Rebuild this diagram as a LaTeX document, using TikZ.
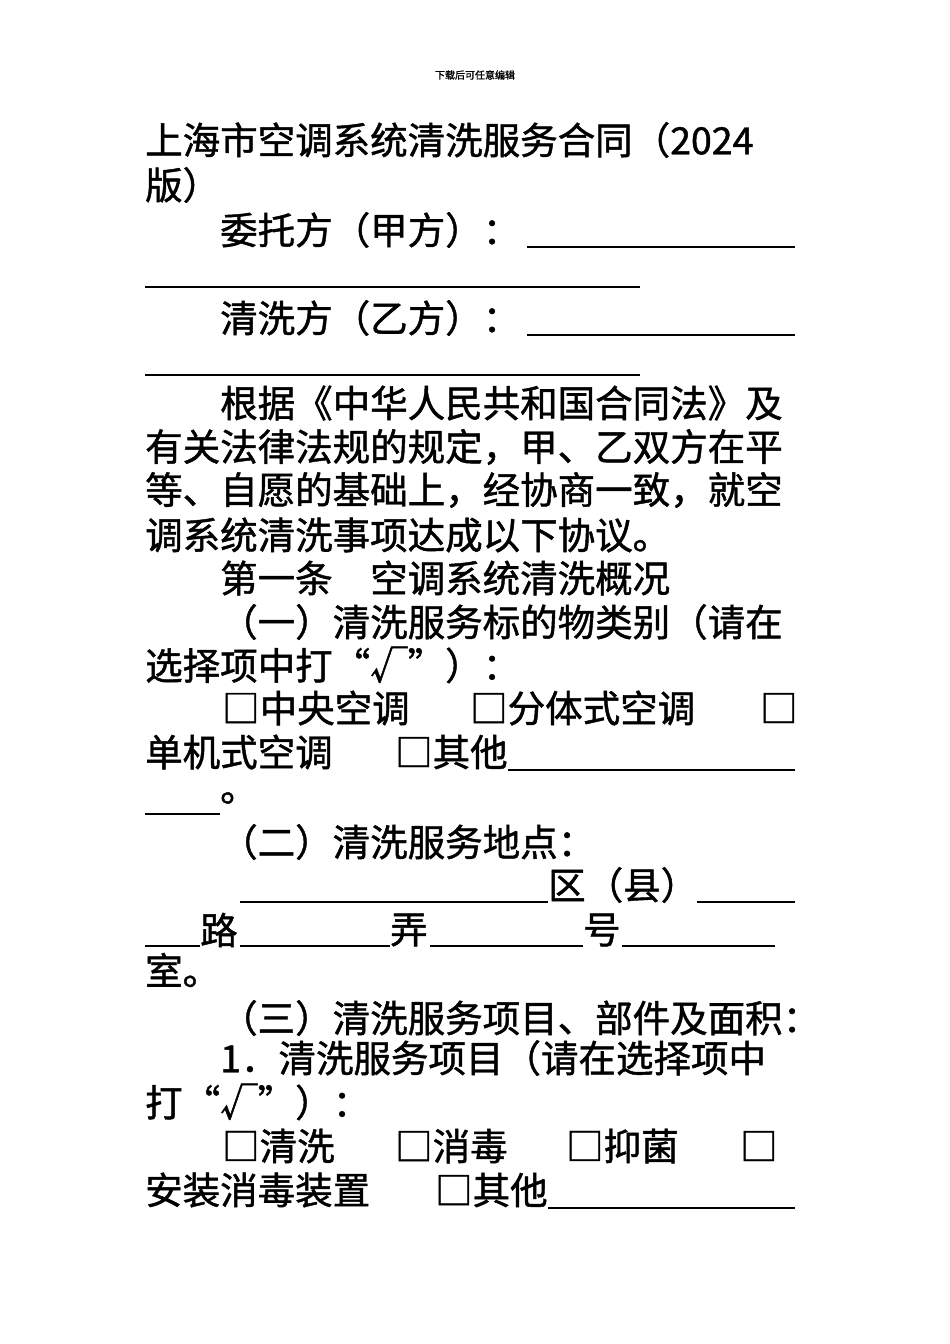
\documentclass[tikz,border=0pt]{standalone}
\usepackage{fontspec}
\setmainfont{Noto Sans CJK SC}[FakeBold=1.2]
\begin{document}
\begin{tikzpicture}[x=1pt,y=-1pt,
  t/.style={anchor=west,inner sep=0pt,font=\fontsize{37.5}{37.5}\selectfont},
  ul/.style={line width=1.2pt}]
\useasboundingbox[fill=white] (0,0) rectangle (950,1344);
\node[font=\fontsize{10}{10}\selectfont] (hd) at (475,75) {下载后可任意编辑};
\node[t] (l1) at (145,140) {上海市空调系统清洗服务合同（2024};
\node[t] (l2) at (145,185) {版）};
\node[t] (l3) at (220,230) {委托方（甲方）：};
\draw[ul] (527,247) -- (795,247);
\draw[ul] (145,287) -- (640,287);
\node[t] (l4) at (220,318) {清洗方（乙方）：};
\draw[ul] (527,335) -- (795,335);
\draw[ul] (145,375) -- (640,375);
\node[t] (l5) at (220,403) {根据《中华人民共和国合同法》及};
\node[t] (l6) at (145,447) {有关法律法规的规定，甲、乙双方在平};
\node[t] (l7) at (145,490) {等、自愿的基础上，经协商一致，就空};
\node[t] (l8) at (145,535) {调系统清洗事项达成以下协议。};
\node[t] (l9) at (220,578) {第一条　空调系统清洗概况};
\node[t] (l10) at (220,622) {（一）清洗服务标的物类别（请在};
\node[t] (l11) at (145,665) {选择项中打“√”）：};
\node[t] (a1) at (222,708) {□中央空调};
\node[t] (a2) at (470,708) {□分体式空调};
\node[t] (a3) at (760,708) {□};
\node[t] (b1) at (145,752) {单机式空调};
\node[t] (b2) at (395,752) {□其他};
\draw[ul] (508,770) -- (795,770);
\draw[ul] (145,814) -- (220,814);
\node[t] (c1) at (220,798) {。};
\node[t] (d1) at (220,842) {（二）清洗服务地点：};
\draw[ul] (240,902) -- (548,902);
\node[t] (e1) at (548,885) {区（县）};
\draw[ul] (697,902) -- (795,902);
\draw[ul] (145,946) -- (200,946);
\node[t] (f1) at (200,930) {路};
\draw[ul] (240,946) -- (390,946);
\node[t] (f2) at (390,930) {弄};
\draw[ul] (430,946) -- (583,946);
\node[t] (f3) at (583,930) {号};
\draw[ul] (622,946) -- (775,946);
\node[t] (g1) at (145,970) {室。};
\node[t] (h1) at (220,1018) {（三）清洗服务项目、部件及面积：};
\node[t] (h2) at (220,1058) {1．清洗服务项目（请在选择项中};
\node[t] (h3) at (145,1102) {打“√”）：};
\node[t] (i1) at (222,1146) {□清洗};
\node[t] (i2) at (395,1146) {□消毒};
\node[t] (i3) at (566,1146) {□抑菌};
\node[t] (i4) at (740,1146) {□};
\node[t] (j1) at (145,1190) {安装消毒装置};
\node[t] (j2) at (435,1190) {□其他};
\draw[ul] (548,1208) -- (795,1208);
\end{tikzpicture}
\end{document}
